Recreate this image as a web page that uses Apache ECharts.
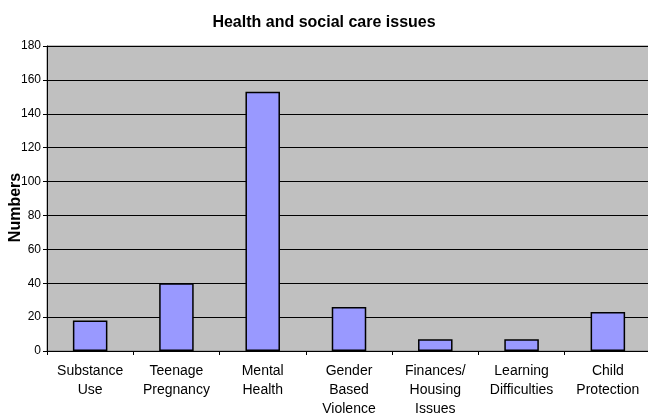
<!DOCTYPE html>
<html>
<head>
<meta charset="utf-8">
<script src="https://cdn.jsdelivr.net/npm/echarts@6/dist/echarts.min.js"></script>
<style>html,body{margin:0;padding:0;background:#fff;}#c{width:648px;height:416px;}</style>
</head>
<body>
<div id="c"></div>
<script>
const title = 'Health and social care issues';
const categories = ['Substance\nUse', 'Teenage\nPregnancy', 'Mental\nHealth', 'Gender\nBased\nViolence', 'Finances/\nHousing\nIssues', 'Learning\nDifficulties', 'Child\nProtection'];
const values = [18, 40, 153, 26, 7, 7, 23];
const yAxisName = 'Numbers';
const yMin = 0, yMax = 180, yStep = 20;

const chart = echarts.init(document.getElementById('c'), null, {renderer: 'canvas'});
chart.setOption({
  animation: false,
  backgroundColor: '#ffffff',
  title: {
    text: title, left: 'center', top: 10,
    textStyle: {fontFamily: 'Liberation Sans, Arial, sans-serif', fontSize: 16, fontWeight: 'bold', color: '#000'}
  },
  grid: {
    left: 47, top: 46, bottom: 65, width: 604,
    containLabel: false, outerBoundsMode: 'none',
    show: true, backgroundColor: '#C0C0C0', borderColor: '#808080', borderWidth: 1
  },
  xAxis: {
    type: 'category', data: categories,
    axisLine: {lineStyle: {color: '#000', width: 1}},
    axisTick: {show: true, length: 4, lineStyle: {color: '#000'}},
    axisLabel: {
      interval: 0, margin: 11, lineHeight: 19,
      fontFamily: 'Liberation Sans, Arial, sans-serif', fontSize: 14, color: '#000'
    }
  },
  yAxis: {
    type: 'value', min: yMin, max: yMax, interval: yStep,
    name: yAxisName, nameLocation: 'middle', nameGap: 23, nameRotate: 90, nameMoveOverlap: false,
    nameTextStyle: {fontFamily: 'Liberation Sans, Arial, sans-serif', fontSize: 16, fontWeight: 'bold', color: '#000', padding: [0, 18, 0, 0]},
    axisLine: {show: true, lineStyle: {color: '#000', width: 1}},
    axisTick: {show: true, length: 4, lineStyle: {color: '#000'}},
    axisLabel: {margin: 6, fontFamily: 'Liberation Sans, Arial, sans-serif', fontSize: 12, color: '#000'},
    splitLine: {show: true, lineStyle: {color: '#000', width: 1}}
  },
  series: [{
    type: 'bar', data: values, barWidth: '40%',
    itemStyle: {color: '#9999FF', borderColor: '#000', borderWidth: 1.5}
  }]
});
</script>
</body>
</html>
